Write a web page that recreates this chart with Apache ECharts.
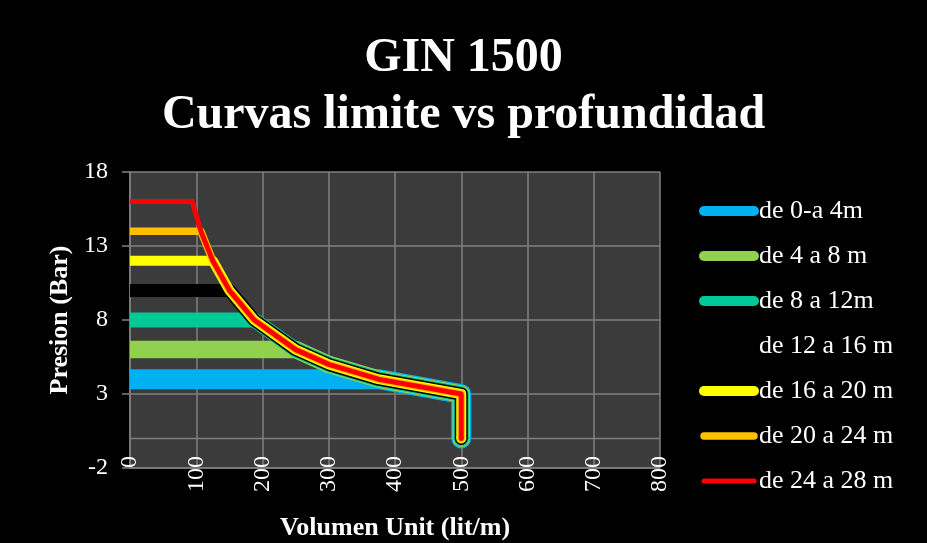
<!DOCTYPE html>
<html>
<head>
<meta charset="utf-8">
<script src="https://cdn.jsdelivr.net/npm/echarts@6/dist/echarts.min.js"></script>
<style>
html,body{margin:0;padding:0;background:#000;}
#chart{width:927px;height:543px;}
</style>
</head>
<body>
<div id="chart"></div>
<script>
// ---- Data ----
const seriesNames = ['de 0-a 4m', 'de 4 a 8 m', 'de 8 a 12m', 'de 12 a 16 m', 'de 16 a 20 m', 'de 20 a 24 m', 'de 24 a 28 m'];
const seriesColors = ['#00B0F0', '#92D050', '#00C896', '#000000', '#FFFF00', '#FFC000', '#FF0000'];
// Volumen Unit (lit/m) and Presion (Bar) for each curve
const vol_0_4   = [0, 375, 500, 500];
const pres_0_4  = [4, 4, 3, 0];
const vol_4_8   = [0, 250, 300, 375, 500, 500];
const pres_4_8  = [6, 6, 5, 4, 3, 0];
const vol_8_12  = [0, 187.5, 250, 300, 375, 500, 500];
const pres_8_12 = [8, 8, 6, 5, 4, 3, 0];
const vol_12_16  = [0, 150, 187.5, 250, 300, 375, 500, 500];
const pres_12_16 = [10, 10, 8, 6, 5, 4, 3, 0];
const vol_16_20  = [0, 125, 150, 187.5, 250, 300, 375, 500, 500];
const pres_16_20 = [12, 12, 10, 8, 6, 5, 4, 3, 0];
const vol_20_24  = [0, 107, 125, 150, 187.5, 250, 300, 375, 500, 500];
const pres_20_24 = [14, 14, 12, 10, 8, 6, 5, 4, 3, 0];
const vol_24_28  = [0, 94, 107, 125, 150, 187.5, 250, 300, 375, 500, 500];
const pres_24_28 = [16, 16, 14, 12, 10, 8, 6, 5, 4, 3, 0];
const xTicks = { min: 0, max: 800, interval: 100 };
const yTicks = { min: -2, max: 18, interval: 5 };
const zeroLineX = [0, 800];
const zeroLineY = [0, 0];

const vols = [vol_0_4, vol_4_8, vol_8_12, vol_12_16, vol_16_20, vol_20_24, vol_24_28];
const press = [pres_0_4, pres_4_8, pres_8_12, pres_12_16, pres_16_20, pres_20_24, pres_24_28];

// ---- Styles ----
const plotWidths = [20, 17.5, 15, 13, 10, 7.5, 5];
const legendWidths = [10, 10, 10, 10, 10, 7.5, 5];
const FONT = "'Liberation Serif', 'Times New Roman', serif";

// butt caps keep the flat start on the axis; the rounded end is the last point's round symbol
function buildData(xs, ys, color, w) {
  return xs.map((x, i) => {
    if (i === xs.length - 1) {
      return { value: [x, ys[i]], symbol: 'circle', symbolSize: w, itemStyle: { color: color, borderWidth: 0, opacity: 1 } };
    }
    return { value: [x, ys[i]], symbol: 'none' };
  });
}

const series = [{
  name: '_zero',
  type: 'line',
  data: zeroLineX.map((x, i) => [x, zeroLineY[i]]),
  symbol: 'none',
  silent: true,
  z: 1,
  lineStyle: { color: '#808080', width: 1.5 }
}];
seriesNames.forEach((n, i) => {
  series.push({
    name: n,
    type: 'line',
    data: buildData(vols[i], press[i], seriesColors[i], plotWidths[i]),
    symbol: 'none',
    showSymbol: true,
    showAllSymbol: true,
    color: seriesColors[i],
    z: 2 + i,
    silent: true,
    emphasis: { disabled: true },
    lineStyle: { color: seriesColors[i], width: plotWidths[i], cap: 'butt', join: 'round' }
  });
});

const chart = echarts.init(document.getElementById('chart'), null, { renderer: 'canvas' });
chart.setOption({
  backgroundColor: '#000000',
  animation: false,
  textStyle: { fontFamily: FONT },
  title: {
    text: 'GIN 1500\nCurvas limite vs profundidad',
    left: 'center',
    top: 30,
    padding: 0,
    textStyle: { color: '#ffffff', fontSize: 48, fontWeight: 'bold', fontFamily: FONT, lineHeight: 57 }
  },
  legend: {
    orient: 'vertical',
    left: 699,
    top: 198,
    padding: 0,
    itemWidth: 50,
    itemHeight: 14,
    itemGap: 19,
    itemStyle: { opacity: 0 },
    textStyle: { color: '#ffffff', fontSize: 26, fontFamily: FONT, lineHeight: 26 },
    data: seriesNames.map((n, i) => ({ name: n, lineStyle: { width: legendWidths[i], cap: 'round' } }))
  },
  grid: {
    left: 130, right: 267, top: 172, bottom: 75,
    outerBoundsMode: 'none',
    containLabel: false,
    show: true, backgroundColor: '#3b3b3b', borderWidth: 0
  },
  xAxis: {
    type: 'value',
    min: xTicks.min, max: xTicks.max, interval: xTicks.interval,
    name: 'Volumen Unit (lit/m)',
    nameLocation: 'middle',
    nameGap: 47,
    nameTextStyle: { color: '#ffffff', fontSize: 26, fontWeight: 'bold', fontFamily: FONT },
    axisLine: { show: true, onZero: false, lineStyle: { color: '#808080', width: 1.5 } },
    axisTick: { show: false },
    axisLabel: { color: '#ffffff', fontSize: 24, fontFamily: FONT, rotate: 90, margin: -12 },
    splitLine: { show: true, lineStyle: { color: '#808080', width: 1.5 } }
  },
  yAxis: {
    type: 'value',
    min: yTicks.min, max: yTicks.max, interval: yTicks.interval,
    name: 'Presion (Bar)',
    nameLocation: 'middle',
    nameGap: 53,
    nameTextStyle: { color: '#ffffff', fontSize: 26, fontWeight: 'bold', fontFamily: FONT },
    axisLine: { show: true, onZero: false, lineStyle: { color: '#808080', width: 1.5 } },
    axisTick: { show: true, length: 8, lineStyle: { color: '#808080', width: 1.5 } },
    axisLabel: { color: '#ffffff', fontSize: 24, fontFamily: FONT, margin: 22 },
    splitLine: { show: true, lineStyle: { color: '#808080', width: 1.5 } }
  },
  series: series
});
</script>
</body>
</html>
